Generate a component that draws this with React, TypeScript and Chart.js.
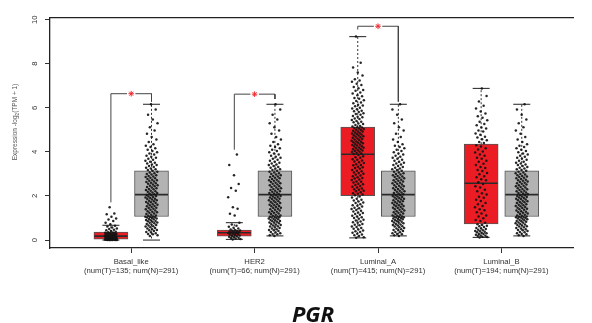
import React, { useEffect, useRef } from "react";
import { Chart, registerables } from "chart.js";
Chart.register(...registerables);

const categories = ["Basal_like", "HER2", "Luminal_A", "Luminal_B"];
const tumorCounts = [135, 66, 415, 194];
const normalCounts = [291, 291, 291, 291];
const yTicks = [0, 2, 4, 6, 8, 10];
const geneName = "PGR";

// box statistics
const tumorQ1 = [0.04, 0.18, 2.01, 0.73];
const tumorMedian = [0.18, 0.33, 3.89, 2.58];
const tumorQ3 = [0.36, 0.45, 5.13, 4.35];
const tumorLow = [0.0, 0.03, 0.1, 0.12];
const tumorHigh = [0.67, 0.79, 9.23, 6.88];
const normalQ1 = [1.07, 1.07, 1.07, 1.07];
const normalMedian = [2.06, 2.06, 2.06, 2.06];
const normalQ3 = [3.14, 3.14, 3.14, 3.14];
const normalLow = [0.0, 0.19, 0.19, 0.19];
const normalHigh = [6.16, 6.16, 6.16, 6.16];

// significance brackets (null = none)
const sigTop = [6.64, 6.62, 9.7, null];
const sigTumorEnd = [1.71, 4.1, 9.55, null];
const sigNormalEnd = [6.28, 6.4, 6.28, null];

// jittered sample values (approximate)
const basalTumor = [
  0, 0, 0, 0, 0, 0, 0.01, 0.01, 0.01, 0.02, 0.02, 0.02, 0.03, 0.03, 0.03, 0.04, 0.04,
  0.05, 0.06, 0.06, 0.07, 0.08, 0.09, 0.1, 0.1, 0.11, 0.12, 0.13, 0.14, 0.14, 0.15, 0.16, 0.17, 0.18,
  0.19, 0.2, 0.21, 0.22, 0.23, 0.24, 0.25, 0.26, 0.27, 0.28, 0.29, 0.3, 0.31, 0.32, 0.33, 0.34, 0.35,
  0.38, 0.41, 0.44, 0.47, 0.5, 0.53, 0.57, 0.61, 0.65, 0.72, 0.78, 0.86, 0.93, 0.98, 1.06, 1.17, 1.2, 1.49,
];
const her2Tumor = [
  0.03, 0.05, 0.07, 0.09, 0.11, 0.13, 0.15, 0.17,
  0.19, 0.21, 0.23, 0.25, 0.27, 0.29, 0.31, 0.32,
  0.34, 0.36, 0.37, 0.39, 0.4, 0.42, 0.43, 0.45,
  0.48, 0.52, 0.56, 0.6, 0.65, 0.71, 0.79,
  1.12, 1.19, 1.42, 1.49, 1.94, 2.24, 2.36, 2.54, 2.94, 3.4, 3.88,
];
const lumATumor = [
  0.1, 0.13, 0.18, 0.22, 0.25, 0.29, 0.33, 0.37, 0.4, 0.43, 0.48, 0.51, 0.55, 0.59, 0.62, 0.67, 0.7, 0.73,
  0.78, 0.81, 0.84, 0.89, 0.92, 0.97, 1.0, 1.04, 1.07, 1.1, 1.15, 1.18, 1.23, 1.25, 1.3, 1.33, 1.36, 1.41,
  1.44, 1.47, 1.52, 1.56, 1.58, 1.63, 1.68, 1.7, 1.75, 1.8, 1.83, 1.87, 1.93, 1.98,
  2.03, 2.07, 2.1, 2.12, 2.17, 2.21, 2.24, 2.28, 2.31, 2.34, 2.39, 2.42, 2.45, 2.5, 2.53, 2.55, 2.61, 2.64,
  2.66, 2.72, 2.75, 2.79, 2.82, 2.85, 2.9, 2.93, 2.96, 3.01, 3.04, 3.07, 3.12, 3.15, 3.18, 3.23, 3.27, 3.3,
  3.33, 3.39, 3.41, 3.44, 3.5, 3.53, 3.56, 3.61, 3.64, 3.67, 3.73, 3.76, 3.8, 3.86,
  3.9, 3.93, 3.95, 3.99, 4.01, 4.04, 4.06, 4.08, 4.12, 4.13, 4.17, 4.19, 4.2, 4.24, 4.26, 4.29, 4.31, 4.34,
  4.36, 4.39, 4.41, 4.44, 4.46, 4.47, 4.51, 4.54, 4.56, 4.59, 4.61, 4.64, 4.66, 4.69, 4.71, 4.74, 4.76, 4.79,
  4.81, 4.84, 4.86, 4.88, 4.92, 4.93, 4.96, 4.99, 5.01, 5.04, 5.06, 5.08, 5.11, 5.12,
  5.15, 5.18, 5.22, 5.27, 5.29, 5.34, 5.37, 5.4, 5.45, 5.49, 5.51, 5.57, 5.6, 5.63, 5.69, 5.72, 5.75, 5.81,
  5.84, 5.87, 5.94, 5.97, 6.0, 6.07, 6.1, 6.14, 6.21, 6.24, 6.31, 6.34, 6.41, 6.45, 6.53, 6.57, 6.65, 6.7,
  6.77, 6.81, 6.89, 6.94, 7.03, 7.09, 7.18, 7.24, 7.3, 7.47, 7.6, 7.83, 8.05, 9.23,
];
const lumBTumor = [
  0.12, 0.14, 0.15, 0.18, 0.2, 0.21, 0.24, 0.27, 0.28, 0.31, 0.32, 0.35, 0.38, 0.4, 0.41, 0.45, 0.47, 0.5,
  0.54, 0.55, 0.59, 0.63, 0.65, 0.68, 0.72,
  0.78, 0.86, 0.91, 0.99, 1.07, 1.12, 1.21, 1.26, 1.35, 1.4, 1.49, 1.54, 1.63, 1.68, 1.77, 1.83, 1.92, 1.97,
  2.07, 2.12, 2.22, 2.28, 2.38, 2.44, 2.54,
  2.62, 2.71, 2.76, 2.85, 2.9, 2.99, 3.04, 3.13, 3.18, 3.27, 3.32, 3.41, 3.46, 3.55, 3.6, 3.69, 3.74, 3.83,
  3.88, 3.97, 4.02, 4.11, 4.16, 4.25, 4.3,
  4.4, 4.45, 4.53, 4.57, 4.65, 4.69, 4.78, 4.83, 4.92, 4.97, 5.06, 5.11, 5.21, 5.27, 5.37, 5.44, 5.55, 5.62,
  5.74, 5.83, 5.97, 6.09, 6.29, 6.54, 6.88,
];
const normalValues = [
  0.19, 0.22, 0.26, 0.28, 0.31, 0.36, 0.37, 0.41, 0.44, 0.46, 0.49, 0.53, 0.55, 0.58, 0.61, 0.63, 0.66, 0.68,
  0.71, 0.73, 0.76, 0.78, 0.8, 0.83, 0.85, 0.87, 0.9, 0.91, 0.94, 0.96, 0.98, 1.0, 1.02, 1.03, 1.05, 1.06, 1.07,
  1.1, 1.12, 1.15, 1.18, 1.2, 1.24, 1.26, 1.29, 1.31, 1.34, 1.37, 1.4, 1.42, 1.45, 1.47, 1.5, 1.53, 1.55, 1.58,
  1.6, 1.63, 1.66, 1.68, 1.71, 1.73, 1.76, 1.78, 1.81, 1.84, 1.86, 1.88, 1.91, 1.93, 1.95, 1.98, 2.0, 2.03, 2.05,
  2.08, 2.11, 2.13, 2.16, 2.19, 2.21, 2.24, 2.27, 2.3, 2.32, 2.35, 2.38, 2.41, 2.44, 2.46, 2.49, 2.52, 2.55,
  2.58, 2.6, 2.63, 2.66, 2.69, 2.71, 2.74, 2.77, 2.8, 2.83, 2.86, 2.88, 2.91, 2.94, 2.97, 3.0, 3.03, 3.07, 3.1, 3.14,
  3.18, 3.21, 3.25, 3.28, 3.32, 3.36, 3.4, 3.43, 3.47, 3.51, 3.55, 3.6, 3.64, 3.69, 3.73, 3.78, 3.83, 3.88,
  3.93, 3.98, 4.04, 4.1, 4.16, 4.22, 4.28, 4.35, 4.45, 4.56, 4.68, 4.82, 4.97, 5.12, 5.3, 5.47, 5.68, 5.92, 6.16,
];
const tumorSamples = [basalTumor, her2Tumor, lumATumor, lumBTumor];

const OFF = 0.1645; // half distance between paired boxes (x units)
const JIT = 0.1; // jitter width (x units)
const FONT = '"Liberation Sans", Arial, Helvetica, sans-serif';
const RED = "#EC1C24";
const GREY = "#B3B3B3";
const DARK = "#2a2a2a";

const jitter = (i: number) => (((i * 0.6180339887 + 0.37) % 1) - 0.5) * JIT;

const textPlugin = {
  id: "extraText",
  afterDraw(chart: any) {
    const ctx = chart.ctx as CanvasRenderingContext2D;
    // y-axis title with subscript
    ctx.save();
    ctx.translate(15.7, 122);
    ctx.rotate(-Math.PI / 2);
    ctx.fillStyle = "#555";
    ctx.textBaseline = "middle";
    const mainF = `6.5px ${FONT}`;
    const subF = `4.8px ${FONT}`;
    const a = "Expression -log";
    const s = "2";
    const b = "(TPM + 1)";
    ctx.font = mainF;
    const wa = ctx.measureText(a).width;
    const wb = ctx.measureText(b).width;
    ctx.font = subF;
    const ws = ctx.measureText(s).width;
    const x0 = -(wa + ws + wb) / 2;
    ctx.font = mainF;
    ctx.fillText(a, x0, 0);
    ctx.font = subF;
    ctx.fillText(s, x0 + wa, 1.6);
    ctx.font = mainF;
    ctx.fillText(b, x0 + wa + ws, 0);
    ctx.restore();
    // gene title
    ctx.save();
    ctx.font = `italic 700 22px "Noto Sans", "Open Sans", sans-serif`;
    ctx.fillStyle = "#111";
    ctx.textAlign = "center";
    ctx.textBaseline = "alphabetic";
    ctx.fillText(geneName, 313, 322);
    ctx.restore();
  },
};

export default function App() {
  const ref = useRef<HTMLCanvasElement | null>(null);
  useEffect(() => {
    if (!ref.current) return;
    const g = (i: number) => i + 1;
    const datasets: any[] = [];

    const boxStyle = {
      type: "bar",
      borderColor: "#555",
      borderWidth: 1,
      borderSkipped: false,
      grouped: false,
      barThickness: 34,
      maxBarThickness: 34,
      categoryPercentage: 1,
      barPercentage: 1,
      order: 10,
    };
    datasets.push({
      ...boxStyle,
      data: categories.map((_, i) => ({ x: g(i) - OFF, y: [tumorQ1[i], tumorQ3[i]] })),
      backgroundColor: RED,
    });
    datasets.push({
      ...boxStyle,
      data: categories.map((_, i) => ({ x: g(i) + OFF, y: [normalQ1[i], normalQ3[i]] })),
      backgroundColor: GREY,
    });

    const boxes = categories.flatMap((_, i) => [
      { x: g(i) - OFF, q1: tumorQ1[i], med: tumorMedian[i], q3: tumorQ3[i], lo: tumorLow[i], hi: tumorHigh[i] },
      { x: g(i) + OFF, q1: normalQ1[i], med: normalMedian[i], q3: normalQ3[i], lo: normalLow[i], hi: normalHigh[i] },
    ]);
    boxes.forEach((b) => {
      [
        [b.q3, b.hi],
        [b.q1, b.lo],
      ].forEach(([from, to]) => {
        datasets.push({
          type: "line",
          data: [
            { x: b.x, y: from },
            { x: b.x, y: to },
          ],
          borderColor: "#333",
          borderWidth: 1,
          borderDash: [2, 2],
          pointRadius: 0,
          showLine: true,
          order: 9,
        });
      });
    });
    datasets.push({
      type: "scatter",
      data: boxes.flatMap((b) => [
        { x: b.x, y: b.hi },
        { x: b.x, y: b.lo },
      ]),
      pointStyle: "line",
      pointRadius: 8.5,
      pointBorderWidth: 1.1,
      pointBorderColor: "#333",
      order: 8,
    });
    datasets.push({
      type: "scatter",
      data: boxes.map((b) => ({ x: b.x, y: b.med })),
      pointStyle: "line",
      pointRadius: 16.5,
      pointBorderWidth: 1.6,
      pointBorderColor: DARK,
      order: 8,
    });

    // jittered points
    datasets.push({
      type: "scatter",
      data: tumorSamples.flatMap((vals, gi) =>
        vals.map((v, i) => ({ x: g(gi) - OFF + jitter(i), y: v }))
      ),
      pointRadius: 1.25,
      pointBorderWidth: 0,
      pointBackgroundColor: "rgba(20,20,20,0.92)",
      order: 5,
    });
    datasets.push({
      type: "scatter",
      data: categories.flatMap((_, gi) =>
        normalValues.map((v, i) => ({ x: g(gi) + OFF + jitter(i + gi * 5), y: v }))
      ),
      pointRadius: 1.25,
      pointBorderWidth: 0,
      pointBackgroundColor: "rgba(20,20,20,0.92)",
      order: 5,
    });

    // significance brackets
    const GAP = 0.034;
    categories.forEach((_, i) => {
      if (sigTop[i] == null) return;
      const top = sigTop[i] as number;
      const br = { type: "line", borderColor: "#444", borderWidth: 1, pointRadius: 0, showLine: true, order: 2 };
      datasets.push({
        ...br,
        data: [
          { x: g(i) - OFF, y: sigTumorEnd[i] },
          { x: g(i) - OFF, y: top },
          { x: g(i) - GAP, y: top },
        ],
      });
      datasets.push({
        ...br,
        data: [
          { x: g(i) + GAP, y: top },
          { x: g(i) + OFF, y: top },
          { x: g(i) + OFF, y: sigNormalEnd[i] },
        ],
      });
    });
    datasets.push({
      type: "scatter",
      data: categories
        .map((_, i) => (sigTop[i] == null ? null : { x: g(i), y: sigTop[i] }))
        .filter(Boolean),
      pointStyle: "star",
      pointRadius: 2.8,
      pointBorderWidth: 1,
      pointBorderColor: "#F0282D",
      order: 1,
    });

    const chart = new Chart(ref.current, {
      type: "scatter",
      data: { datasets },
      options: {
        animation: false,
        responsive: false,
        devicePixelRatio: 1,
        layout: { padding: { top: 13, left: 0, right: 0, bottom: 0 } },
        plugins: { legend: { display: false }, tooltip: { enabled: false }, title: { display: false } },
        scales: {
          x: {
            type: "linear",
            min: 0.342,
            max: 4.587,
            offset: false,
            afterBuildTicks: (s: any) => {
              s.ticks = categories.map((_, i) => ({ value: i + 1 }));
            },
            afterFit: (s: any) => {
              s.height = 75;
            },
            ticks: {
              autoSkip: false,
              maxRotation: 0,
              minRotation: 0,
              padding: 4,
              color: "#333",
              font: { family: FONT, size: 7.7, lineHeight: 1.2 },
              callback: (v: any) => {
                const i = Math.round(Number(v)) - 1;
                return [categories[i], `(num(T)=${tumorCounts[i]}; num(N)=${normalCounts[i]})`];
              },
            },
            grid: { display: true, drawOnChartArea: false, drawTicks: true, tickLength: 5, color: "#333", offset: false },
            border: { display: true, color: "#222", width: 1.3 },
          },
          x2: {
            type: "linear",
            position: "top",
            min: 0.342,
            max: 4.587,
            afterFit: (s: any) => {
              s.height = 0;
            },
            ticks: { display: false },
            grid: { display: false, drawTicks: false },
            border: { display: true, color: "#222", width: 1.3 },
          },
          y: {
            type: "linear",
            min: -0.36,
            max: 10.07,
            afterBuildTicks: (s: any) => {
              s.ticks = yTicks.map((v) => ({ value: v }));
            },
            afterFit: (s: any) => {
              s.width = 50;
            },
            ticks: {
              minRotation: 90,
              maxRotation: 90,
              crossAlign: "center",
              padding: 6,
              color: "#333",
              font: { family: FONT, size: 7.7 },
            },
            grid: { display: true, drawOnChartArea: false, drawTicks: true, tickLength: 5, color: "#333" },
            border: { display: true, color: "#222", width: 1.3 },
          },
        },
      },
      plugins: [textPlugin],
    } as any);
    return () => chart.destroy();
  }, []);

  return (
    <div style={{ position: "fixed", left: 0, top: 0, width: 592, height: 323, background: "#fff" }}>
      <canvas ref={ref} width={592} height={323} style={{ width: 592, height: 323, display: "block" }} />
    </div>
  );
}
